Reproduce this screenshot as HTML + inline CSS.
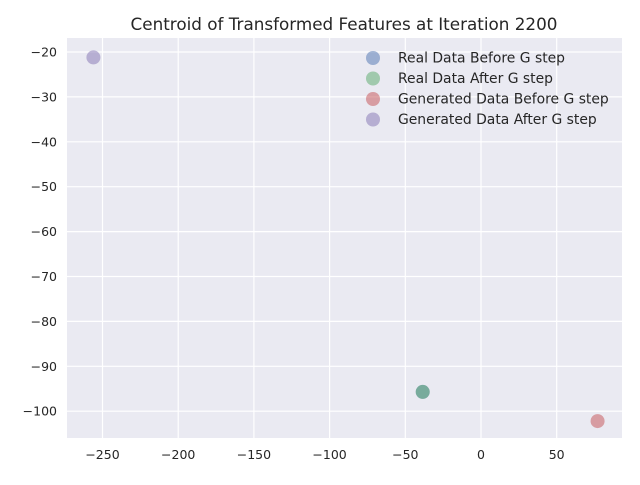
<!DOCTYPE html>
<html><head><meta charset="utf-8"><style>
body{margin:0;background:#fff;}
svg text{font-family:"DejaVu Sans","Liberation Sans",sans-serif;}
</style></head><body>
<svg width="640" height="480" id="c">
<rect x="67" y="38" width="555" height="400" fill="#EAEAF2"/>
<g id="grid"></g><g id="ticks"></g><g id="pts"></g>
<text x="344" y="30" font-size="16.8" text-anchor="middle" fill="#262626">Centroid of Transformed Features at Iteration 2200</text>
<g id="legend"></g>
</svg>
<script>
const xTicks=[-250,-200,-150,-100,-50,0,50];
const yTicks=[-20,-30,-40,-50,-60,-70,-80,-90,-100];
const seriesNames=["Real Data Before G step","Real Data After G step","Generated Data Before G step","Generated Data After G step"];
const seriesColors=["#4C72B0","#55A868","#C44E52","#8172B2"];
const xValues=[-38.5,-38.5,77,-256];
const yValues=[-95.7,-95.7,-102.2,-21.2];
const ns="http://www.w3.org/2000/svg";
const X=v=>481+(v)*(75.7/50);
const Y=v=>52+(-20-v)*4.49;
function mk(t,a,p){const e=document.createElementNS(ns,t);for(const k in a)e.setAttribute(k,a[k]);p.appendChild(e);return e;}
const g=document.getElementById('grid'),tk=document.getElementById('ticks');
xTicks.forEach(v=>{const l=mk('line',{x1:X(v),x2:X(v),y1:38,y2:438,stroke:'#fff','stroke-width':1.2},g);


const t=mk('text',{x:X(v),y:459,'font-size':12.5,'text-anchor':'middle',fill:'#262626'},tk);t.textContent=v<0?'\u2212'+(-v):v;

});
yTicks.forEach(v=>{const l=mk('line',{x1:67,x2:622,y1:Y(v),y2:Y(v),stroke:'#fff','stroke-width':1.2},g);


const t=mk('text',{x:57,y:Y(v)+4.5,'font-size':12.5,'text-anchor':'end',fill:'#262626'},tk);t.textContent='\u2212'+(-v);

});
const p=document.getElementById('pts'),lg=document.getElementById('legend');
seriesNames.forEach((n,i)=>{const c=mk('circle',{cx:X(xValues[i]),cy:Y(yValues[i]),r:7,fill:seriesColors[i],'fill-opacity':0.5},p);


const m=mk('circle',{cx:373,cy:58+i*20.5,r:7,fill:seriesColors[i],'fill-opacity':0.5},lg);


const t=mk('text',{x:398,y:62.5+i*20.5,'font-size':13.9,fill:'#262626'},lg);t.textContent=n;

});
</script>
</body></html>
